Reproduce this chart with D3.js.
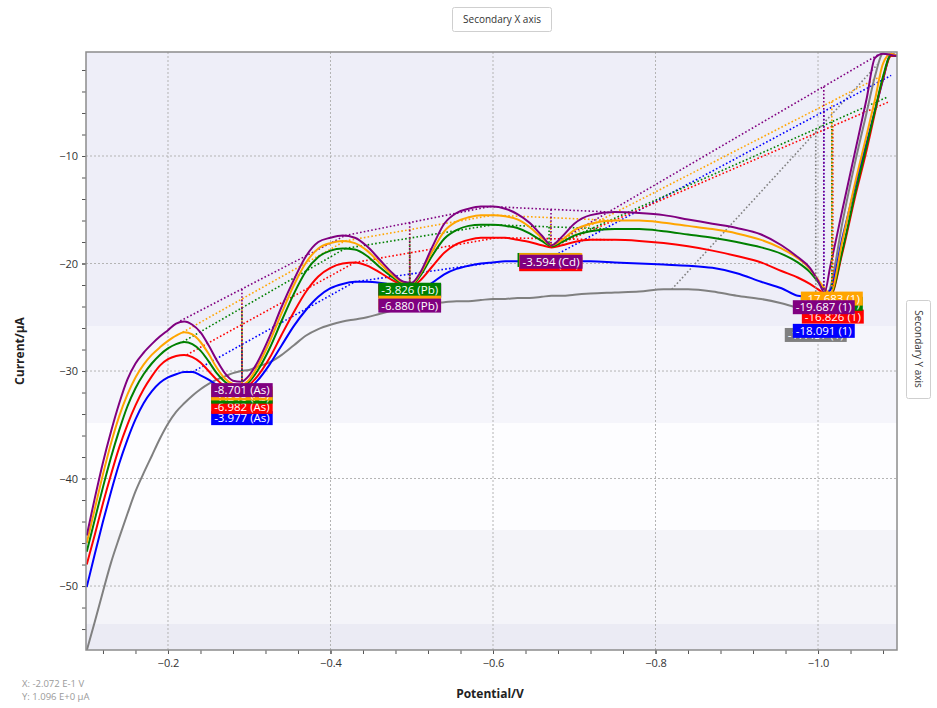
<!DOCTYPE html>
<html>
<head>
<meta charset="utf-8">
<script src="https://cdn.jsdelivr.net/npm/d3@7"></script>
<style>
  body { margin: 0; background: #fff; font-family: "Open Sans", "Noto Sans", sans-serif; }
  svg { display: block; }
</style>
</head>
<body>
<svg id="chart" width="937" height="708"></svg>
<script>
'use strict';

/* ---- data ---- */
const potentials = [-0.100,-0.110,-0.120,-0.130,-0.140,-0.150,-0.160,-0.170,-0.180,-0.190,
  -0.200,-0.210,-0.220,-0.230,-0.240,-0.250,-0.260,-0.270,-0.280,-0.290,
  -0.300,-0.310,-0.325,-0.340,-0.355,-0.370,-0.385,-0.400,-0.415,-0.430,
  -0.445,-0.460,-0.475,-0.490,-0.500,-0.510,-0.525,-0.540,-0.555,-0.570,
  -0.585,-0.600,-0.615,-0.630,-0.645,-0.660,-0.672,-0.685,-0.700,-0.720,
  -0.750,-0.780,-0.810,-0.840,-0.870,-0.900,-0.930,-0.955,-0.975,-0.990,
  -1.000,-1.008,-1.015,-1.030,-1.045,-1.060,-1.070,-1.080,-1.090,-1.098];

const purpleI = [-45.3,-41.8,-38.5,-35.6,-33.0,-30.8,-29.3,-28.3,-27.5,-26.8,
  -26.2,-25.6,-25.4,-25.7,-26.4,-27.6,-29.0,-30.2,-30.9,-31.0,
  -30.4,-29.2,-26.8,-24.0,-21.5,-19.3,-18.0,-17.6,-17.4,-17.6,
  -18.4,-19.6,-20.8,-21.7,-21.8,-20.9,-18.5,-16.3,-15.3,-14.9,
  -14.7,-14.7,-14.9,-15.4,-16.2,-17.4,-18.3,-17.5,-16.3,-15.5,
  -15.2,-15.3,-15.5,-15.9,-16.3,-16.7,-17.3,-18.3,-19.4,-20.4,
  -21.6,-22.7,-20.3,-15.0,-9.8,-4.6,-0.9,-0.5,-0.6,-0.7];
const orangeI = [-46.0,-42.8,-39.6,-36.7,-34.2,-32.2,-30.6,-29.4,-28.5,-27.8,
  -27.2,-26.7,-26.4,-26.6,-27.3,-28.4,-29.7,-30.7,-31.2,-31.3,
  -30.8,-29.6,-27.3,-24.6,-22.0,-19.9,-18.6,-18.1,-17.9,-18.1,
  -18.8,-19.9,-21.0,-21.8,-21.9,-21.0,-18.9,-17.0,-16.1,-15.7,
  -15.5,-15.5,-15.6,-15.9,-16.6,-17.6,-18.3,-17.8,-16.9,-16.3,
  -16.0,-16.0,-16.2,-16.5,-16.8,-17.2,-17.8,-18.6,-19.5,-20.5,
  -21.5,-22.3,-22.8,-17.9,-12.7,-8.0,-4.8,-1.4,-0.5,-0.7];
const greenI = [-46.8,-43.8,-40.8,-38.0,-35.5,-33.3,-31.6,-30.3,-29.3,-28.5,
  -27.9,-27.5,-27.3,-27.5,-28.1,-29.1,-30.2,-31.0,-31.4,-31.4,
  -31.0,-30.0,-27.9,-25.3,-22.8,-20.7,-19.4,-18.8,-18.6,-18.7,
  -19.3,-20.3,-21.2,-21.9,-22.0,-21.2,-19.3,-17.7,-16.9,-16.5,
  -16.4,-16.4,-16.5,-16.7,-17.2,-17.9,-18.4,-18.0,-17.4,-17.0,
  -16.8,-16.8,-17.0,-17.3,-17.6,-18.0,-18.5,-19.1,-19.9,-20.8,
  -21.7,-22.4,-22.9,-18.8,-13.7,-9.0,-5.8,-2.6,-0.6,-0.7];
const redI = [-48.0,-45.2,-42.3,-39.6,-37.1,-35.0,-33.2,-31.7,-30.5,-29.5,
  -28.9,-28.6,-28.5,-28.7,-29.2,-30.0,-30.8,-31.4,-31.7,-31.7,
  -31.3,-30.5,-28.8,-26.6,-24.5,-22.6,-21.2,-20.4,-20.0,-19.9,
  -20.2,-20.8,-21.5,-22.0,-22.1,-21.6,-20.3,-19.0,-18.2,-17.8,
  -17.6,-17.6,-17.6,-17.8,-18.0,-18.3,-18.5,-18.3,-18.0,-17.8,
  -17.8,-17.9,-18.1,-18.4,-18.8,-19.3,-19.9,-20.7,-21.3,-21.9,
  -22.4,-22.8,-23.0,-19.0,-14.0,-9.4,-6.0,-2.8,-0.7,-0.7];
const blueI = [-50.1,-47.0,-44.0,-41.2,-38.6,-36.4,-34.5,-33.0,-31.9,-31.1,
  -30.6,-30.3,-30.1,-30.1,-30.4,-30.8,-31.3,-31.7,-31.9,-31.9,
  -31.6,-30.9,-29.4,-27.6,-25.8,-24.3,-23.1,-22.3,-21.9,-21.7,
  -21.7,-21.8,-22.0,-22.4,-22.6,-22.5,-21.8,-21.0,-20.5,-20.2,
  -20.0,-19.9,-19.8,-19.8,-19.8,-19.9,-19.9,-19.8,-19.8,-19.8,
  -19.9,-20.0,-20.1,-20.2,-20.4,-20.9,-21.7,-22.3,-23.0,-23.1,
  -23.0,-22.8,-22.5,-17.6,-13.0,-8.7,-5.8,-2.9,-0.5,-0.7];
const greyI = [-56.0,-53.3,-50.5,-47.8,-45.5,-43.3,-41.2,-39.5,-37.9,-36.3,
  -34.9,-33.8,-33.0,-32.3,-31.7,-31.2,-30.8,-30.5,-30.2,-30.0,
  -29.9,-29.6,-29.2,-28.5,-27.6,-26.7,-26.1,-25.7,-25.4,-25.2,
  -25.0,-24.7,-24.4,-24.1,-24.0,-23.9,-23.7,-23.6,-23.5,-23.5,
  -23.4,-23.3,-23.3,-23.2,-23.2,-23.1,-23.0,-23.0,-22.9,-22.8,
  -22.7,-22.6,-22.4,-22.4,-22.6,-23.0,-23.3,-23.7,-24.1,-24.3,
  -24.2,-23.5,-22.3,-16.2,-10.8,-5.9,-2.6,-0.5,-0.6,-0.7];

/* baselines: [E start, I start, E end, I end] */
const purpleBase = [[-0.215,-25.35,-0.418,-17.4],[-0.418,-17.4,-0.596,-14.7],[-0.596,-14.7,-0.74,-15.2],[-0.672,-18.3,-1.076,-0.5]];
const orangeBase = [[-0.218,-26.4,-0.418,-17.9],[-0.418,-17.9,-0.600,-15.5],[-0.600,-15.5,-0.75,-16.0],[-0.672,-18.3,-1.082,-2.4]];
const greenBase  = [[-0.218,-27.3,-0.418,-18.6],[-0.418,-18.6,-0.600,-16.4],[-0.600,-16.4,-0.75,-16.8],[-0.672,-18.4,-1.086,-4.5]];
const redBase    = [[-0.223,-28.5,-0.430,-19.9],[-0.430,-19.9,-0.605,-17.6],[-0.605,-17.6,-0.75,-17.8],[-0.672,-18.5,-1.086,-5.0]];
const blueBase   = [[-0.230,-30.1,-0.430,-21.7],[-0.430,-21.7,-0.600,-19.9],[-0.660,-19.9,-1.090,-2.5]];
const greyBase   = [[-0.820,-22.4,-1.073,-1.5]];

const purplePeakE = [-0.291,-0.4975,-0.6714,-1.0071];
const orangePeakE = [-0.291,-0.4975,-0.671,-1.017];
const greenPeakE  = [-0.291,-0.4975,-0.669,-1.017];
const redPeakE    = [-0.291,-0.4975,-0.671,-1.0182];
const bluePeakE   = [-0.291,-0.4975,-1.0071];
const greyPeakE   = [-0.9972];

const purpleLabels = ['-8.701 (As)','-6.880 (Pb)','-3.594 (Cd)','-19.687 (1)'];
const orangeLabels = ['-7.988 (As)','-5.102 (Pb)','-3.101 (Cd)','-17.683 (1)'];
const greenLabels  = ['-7.246 (As)','-3.826 (Pb)','-2.410 (Cd)','-16.951 (1)'];
const redLabels    = ['-6.982 (As)','-4.517 (Pb)','-1.207 (Cd)','-16.826 (1)'];
const blueLabels   = ['-3.977 (As)','-1.213 (Pb)','-18.091 (1)'];
const greyLabels   = ['-17.457 (1)'];

const xTicks = [-0.2,-0.4,-0.6,-0.8,-1.0];
const yTicks = [-10,-20,-30,-40,-50];

/* ---- setup ---- */
const svg = d3.select('#chart');
const L = 86, R = 897, T = 52, B = 650;
const x = d3.scaleLinear().domain([-0.0991, -1.0972]).range([L, R]);
const y = d3.scaleLinear().domain([-0.326, -55.95]).range([T, B]);

const series = [
  { name: 'grey',   color: '#808080', values: greyI,   base: greyBase,   peakE: greyPeakE,   labels: greyLabels,   ions: ['1'] },
  { name: 'blue',   color: '#0000FF', values: blueI,   base: blueBase,   peakE: bluePeakE,   labels: blueLabels,   ions: ['As','Pb','1'] },
  { name: 'red',    color: '#FF0000', values: redI,    base: redBase,    peakE: redPeakE,    labels: redLabels,    ions: ['As','Pb','Cd','1'] },
  { name: 'green',  color: '#008000', values: greenI,  base: greenBase,  peakE: greenPeakE,  labels: greenLabels,  ions: ['As','Pb','Cd','1'] },
  { name: 'orange', color: '#FFA500', values: orangeI, base: orangeBase, peakE: orangePeakE, labels: orangeLabels, ions: ['As','Pb','Cd','1'] },
  { name: 'purple', color: '#800080', values: purpleI, base: purpleBase, peakE: purplePeakE, labels: purpleLabels, ions: ['As','Pb','Cd','1'] }
];

// pixel nudges of the peak labels below the dip (stacked like the original)
const nudge = {
  As:  { purple: 2, orange: 2, green: 4, red: 11, blue: 20 },
  Pb:  { purple: 16, orange: 12, green: -2, red: -2, blue: -7 },
  Cd:  { purple: 10, orange: 8.5, green: 8, red: 10 },
  '1': { purple: 9, orange: 5, green: 8, red: 23, blue: 30, grey: 19 }
};

function interp(vals, e) {
  for (let i = 0; i < potentials.length - 1; i++) {
    const a = potentials[i], b = potentials[i + 1];
    if (e <= a && e >= b) return vals[i] + (vals[i + 1] - vals[i]) * (e - a) / (b - a);
  }
  return vals[vals.length - 1];
}
const onBase = (b, e) => b[1] + (b[3] - b[1]) * (e - b[0]) / (b[2] - b[0]);

/* background bands */
const bands = [[T, 326, '#EEEEF8'], [326, 423, '#F5F5FB'], [423, 530, '#FDFDFF'], [530, 624, '#F4F4F9'], [624, B, '#EBEBF4']];
svg.append('g').selectAll('rect').data(bands).join('rect')
  .attr('x', L).attr('width', R - L)
  .attr('y', d => d[0]).attr('height', d => d[1] - d[0])
  .attr('fill', d => d[2]);

svg.append('defs').append('clipPath').attr('id', 'plot-clip')
  .append('rect').attr('x', L).attr('y', T).attr('width', R - L).attr('height', B - T);

/* grid */
const grid = svg.append('g').attr('stroke', '#B4B4B4').attr('stroke-dasharray', '2,2').attr('stroke-width', 1);
grid.selectAll('.gx').data(xTicks).join('line')
  .attr('x1', d => x(d)).attr('x2', d => x(d)).attr('y1', T).attr('y2', B);
grid.selectAll('.gy').data(yTicks).join('line')
  .attr('y1', d => y(d)).attr('y2', d => y(d)).attr('x1', L).attr('x2', R);

/* axes */
const minorX = d3.range(-0.12, -1.1, -0.04);
const minorY = d3.range(-2, -56, -2);
const axX = svg.append('g').attr('transform', `translate(0,${B})`)
  .call(d3.axisBottom(x).tickValues(minorX).tickSize(4).tickFormat(''));
const axXm = svg.append('g').attr('transform', `translate(0,${B})`)
  .call(d3.axisBottom(x).tickValues(xTicks).tickSize(4).tickPadding(5).tickFormat(d3.format('.1f')));
const axY = svg.append('g').attr('transform', `translate(${L},0)`)
  .call(d3.axisLeft(y).tickValues(minorY).tickSize(4).tickFormat(''));
const axYm = svg.append('g').attr('transform', `translate(${L},0)`)
  .call(d3.axisLeft(y).tickValues(yTicks).tickSize(4).tickPadding(4).tickFormat(d3.format('d')));
[axX, axXm, axY, axYm].forEach(a => {
  a.select('.domain').remove();
  a.selectAll('line').attr('stroke', '#555');
  a.selectAll('text').attr('fill', '#333').style('font-size', '11px').style('font-family', '"Open Sans", sans-serif');
});

const plot = svg.append('g').attr('clip-path', 'url(#plot-clip)');

/* baselines */
series.forEach(s => {
  plot.append('g').selectAll('line').data(s.base).join('line')
    .attr('x1', d => x(d[0])).attr('y1', d => y(d[1]))
    .attr('x2', d => x(d[2])).attr('y2', d => y(d[3]))
    .attr('stroke', s.color).attr('stroke-width', 1.6)
    .attr('stroke-dasharray', '1.6,2.2');
});

/* curves */
const line = d3.line().x((d, i) => x(potentials[i])).y(d => y(d)).curve(d3.curveMonotoneX);
series.forEach(s => {
  plot.append('path').datum(s.values)
    .attr('d', line).attr('fill', 'none')
    .attr('stroke', s.color).attr('stroke-width', 2).attr('stroke-linejoin', 'round');
});

/* peak height markers */
series.forEach(s => {
  s.peakE.forEach((e, j) => {
    plot.append('line')
      .attr('x1', x(e)).attr('x2', x(e))
      .attr('y1', y(onBase(s.base[j], e))).attr('y2', y(interp(s.values, e)))
      .attr('stroke', s.color).attr('stroke-width', 1.6)
      .attr('stroke-dasharray', '1.6,2');
  });
});

/* peak labels */
const labG = svg.append('g').style('font-family', '"Open Sans", sans-serif').style('font-size', '11.5px');
series.forEach(s => {
  s.peakE.forEach((e, j) => {
    const top = y(interp(s.values, e)) + nudge[s.ions[j]][s.name];
    const g = labG.append('g');
    const rect = g.append('rect').attr('fill', s.color);
    const t = g.append('text').attr('fill', '#fff').text(s.labels[j]);
    const w = t.node().getComputedTextLength() + 6;
    rect.attr('x', x(e) - w / 2).attr('y', top).attr('width', w).attr('height', 14);
    t.attr('x', x(e) - w / 2 + 3).attr('y', top + 11.2);
  });
});

/* frame */
svg.append('rect').attr('x', L).attr('y', T).attr('width', R - L).attr('height', B - T)
  .attr('fill', 'none').attr('stroke', '#8C8C8C').attr('stroke-width', 1.5);

/* axis titles */
svg.append('text').attr('x', 490).attr('y', 698).attr('text-anchor', 'middle')
  .style('font-size', '12px').style('font-weight', 'bold').attr('fill', '#222').text('Potential/V');
svg.append('text').attr('transform', 'translate(24,351) rotate(-90)').attr('text-anchor', 'middle')
  .style('font-size', '12px').style('font-weight', 'bold').attr('fill', '#222').text('Current/μA');

/* buttons */
const btnX = svg.append('g');
btnX.append('rect').attr('x', 452.5).attr('y', 7.5).attr('width', 99).attr('height', 24).attr('rx', 2)
  .attr('fill', '#fff').attr('stroke', '#CFCFCF');
btnX.append('text').attr('x', 502).attr('y', 23).attr('text-anchor', 'middle')
  .style('font-size', '10px').attr('fill', '#333').text('Secondary X axis');
const btnY = svg.append('g');
btnY.append('rect').attr('x', 906.5).attr('y', 300.5).attr('width', 24).attr('height', 98).attr('rx', 2)
  .attr('fill', '#fff').attr('stroke', '#CFCFCF');
btnY.append('text').attr('transform', 'translate(915,349) rotate(90)').attr('text-anchor', 'middle')
  .style('font-size', '10px').attr('fill', '#333').text('Secondary Y axis');

/* cursor readout */
svg.append('text').attr('x', 22).attr('y', 687).style('font-size', '9.5px').attr('fill', '#9A9A9A').text('X: -2.072 E-1 V');
svg.append('text').attr('x', 22).attr('y', 700).style('font-size', '9.5px').attr('fill', '#9A9A9A').text('Y: 1.096 E+0 μA');
</script>
</body>
</html>
